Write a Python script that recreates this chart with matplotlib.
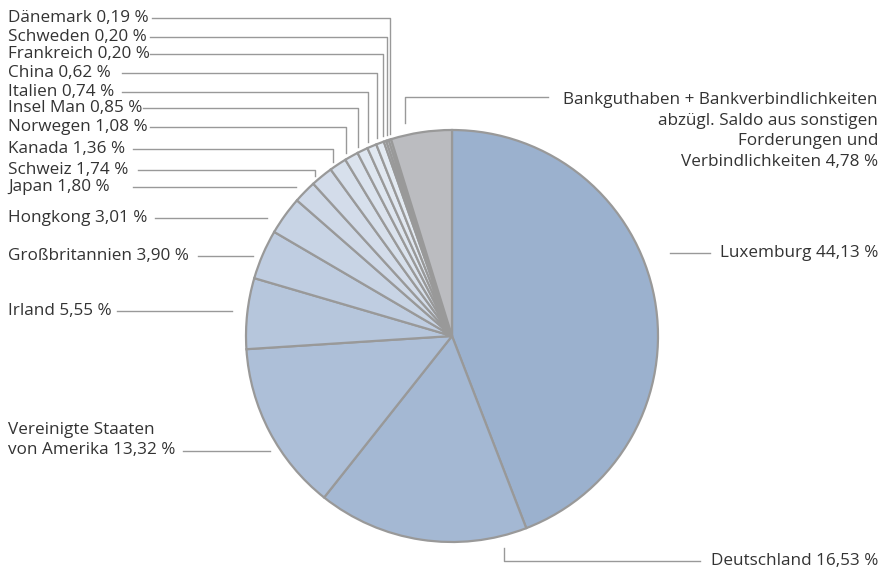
import numpy as np
import matplotlib.pyplot as plt

# Länderaufteilung in % (Reihenfolge im Uhrzeigersinn ab 12 Uhr)
countries = ["Luxemburg", "Deutschland", "Vereinigte Staaten\nvon Amerika", "Irland",
             "Großbritannien", "Hongkong", "Japan", "Schweiz", "Kanada", "Norwegen",
             "Insel Man", "Italien", "China", "Frankreich", "Schweden", "Dänemark",
             "Bankguthaben + Bankverbindlichkeiten\nabzügl. Saldo aus sonstigen\nForderungen und\nVerbindlichkeiten"]
shares = [44.13, 16.53, 13.32, 5.55, 3.90, 3.01, 1.80, 1.74, 1.36, 1.08,
          0.85, 0.74, 0.62, 0.20, 0.20, 0.19, 4.78]
colors = ["#9bb1ce", "#a4b8d3", "#adbfd8", "#b6c6dc", "#bfcde1", "#c8d4e5",
          "#cfd9e8", "#d3dcea", "#d7e0ec", "#dbe3ee", "#dee6f0", "#e1e8f1",
          "#e3eaf2", "#e5ebf3", "#e6ecf4", "#e7edf4", "#bbbcc0"]

W, H = 880, 573
cx, cy, r = 452, 336, 206
line_c = "#999999"
txt_c = "#333333"


def Y(y):
    return H - y


def fmt(v):
    return ("%.2f" % v).replace(".", ",") + " %"


fig = plt.figure(figsize=(W / 100, H / 100), dpi=100)
ax = fig.add_axes([0, 0, 1, 1])
ax.set_xlim(0, W)
ax.set_ylim(0, H)
ax.set_aspect("equal")
ax.axis("off")

ax.pie(shares, colors=colors, startangle=90, counterclock=False,
       center=(cx, Y(cy)), radius=r,
       wedgeprops=dict(edgecolor=line_c, linewidth=1.6))
ax.set_xlim(0, W)
ax.set_ylim(0, H)

fs = 12.3
kw = dict(fontsize=fs, color=txt_c, family=["Open Sans", "DejaVu Sans"])


def edge_y(x, gap=6):
    return cy - np.sqrt(r ** 2 - (x - cx) ** 2) - gap


# linke kleine Posten: Text, waagerechte Linie, senkrecht zur Tortenkante
left_small = [  # name index, label y, line start x, knee x
    (15, 18, 152, 390),
    (14, 37, 150, 387),
    (13, 54, 150, 383),
    (12, 73, 122, 377),
    (11, 92, 122, 368),
    (10, 108, 143, 358),
    (9, 127, 150, 346),
    (8, 149, 133, 333),
    (7, 170, 138, 315),
]
for i, ly, x0, xk in left_small:
    ax.text(8, Y(ly), countries[i] + " " + fmt(shares[i]), ha="left", va="center", **kw)
    ax.plot([x0, xk, xk], [Y(ly), Y(ly), Y(edge_y(xk))], color=line_c, lw=1)

# linke Posten mit waagerechter Linie
left_plain = [
    (6, 187, 133, 296),
    (5, 218, 155, 267),
    (4, 256, 198, 253),
    (3, 311, 117, 232),
]
for i, ly, x0, x1 in left_plain:
    ax.text(8, Y(ly), countries[i] + " " + fmt(shares[i]), ha="left", va="center", **kw)
    ax.plot([x0, x1], [Y(ly), Y(ly)], color=line_c, lw=1)

# USA
ax.text(8, Y(440), countries[2] + " " + fmt(shares[2]), ha="left", va="center",
        linespacing=1.4, **kw)
ax.plot([183, 270], [Y(451), Y(451)], color=line_c, lw=1)

# Luxemburg
ax.text(878, Y(253), countries[0] + " " + fmt(shares[0]), ha="right", va="center", **kw)
ax.plot([670, 710], [Y(253), Y(253)], color=line_c, lw=1)

# Deutschland
ax.text(878, Y(561), countries[1] + " " + fmt(shares[1]), ha="right", va="center", **kw)
ax.plot([504, 504, 700], [Y(548), Y(561), Y(561)], color=line_c, lw=1)

# Bankguthaben
ax.text(878, Y(131), countries[16] + " " + fmt(shares[16]), ha="right", va="center",
        multialignment="right", linespacing=1.4, **kw)
ax.plot([405, 405, 548], [Y(123), Y(97), Y(97)], color=line_c, lw=1)

fig.savefig("out.png", dpi=100)
